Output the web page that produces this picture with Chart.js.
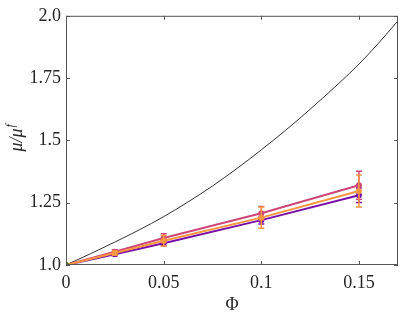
<!DOCTYPE html>
<html>
<head>
<meta charset="utf-8">
<script src="https://cdn.jsdelivr.net/npm/chart.js@4"></script>
<style>
  html, body { margin: 0; padding: 0; background: #fff; }
  #wrap { width: 415px; height: 312px; }
</style>
</head>
<body>
<div id="wrap"><canvas id="muChart" width="415" height="312"></canvas></div>
<script>
// ================= DATA =================
const phiPts = [0, 0.025, 0.05, 0.1, 0.15];
const pinkMu = [1.0, 1.053, 1.108, 1.208, 1.32];
const pinkErr = [0, 0.008, 0.017, 0.027, 0.056];
const orangeMu = [1.0, 1.048, 1.097, 1.19, 1.297];
const orangeErr = [0, 0.009, 0.021, 0.043, 0.064];
const purpleMu = [1.0, 1.043, 1.087, 1.18, 1.28];
const purpleErr = [0, 0.006, 0.01, 0.015, 0.029];

// theory curve
const curvePhi = [0, 0.0125, 0.025, 0.0375, 0.05, 0.0625, 0.075, 0.0875, 0.1, 0.1125, 0.125, 0.1375, 0.15, 0.16, 0.17];
const curveMu = [1.0, 1.045, 1.092, 1.141, 1.194, 1.253, 1.317, 1.387, 1.462, 1.541, 1.625, 1.713, 1.806, 1.89, 1.98];

const originPhi = [0];
const originMu = [1.0];

const xTicks = [0, 0.05, 0.1, 0.15];
const xTickLabels = ['0', '0.05', '0.1', '0.15'];
const yTicks = [1.0, 1.25, 1.5, 1.75, 2.0];
const yTickLabels = ['1.0', '1.25', '1.5', '1.75', '2.0'];

const PURPLE = '#7a0fa8';
const ORANGE = '#f89540';
const PINK = '#cc4778';

const pts = (xs, ys) => xs.map((x, i) => ({ x, y: ys[i] }));

// ================= PLUGIN: frame, inward ticks, error bars, y title =================
const axesBox = {
    id: 'axesBox',
    afterDatasetDraw(chart, args) {
        const ds = chart.data.datasets[args.index];
        if (!ds.errs) return;
        const ctx = chart.ctx;
        const xs = chart.scales.x, ys = chart.scales.y;
        ctx.save();
        ctx.strokeStyle = ds.borderColor;
        ctx.lineWidth = 1.5;
        ds.data.forEach((p, i) => {
            const e = ds.errs[i];
            if (!e) return;
            const px = xs.getPixelForValue(p.x);
            const top = ys.getPixelForValue(p.y + e);
            const bot = ys.getPixelForValue(p.y - e);
            ctx.beginPath();
            ctx.moveTo(px, top); ctx.lineTo(px, bot);
            ctx.moveTo(px - 3, top); ctx.lineTo(px + 3, top);
            ctx.moveTo(px - 3, bot); ctx.lineTo(px + 3, bot);
            ctx.stroke();
        });
        ctx.restore();
    },
    afterDraw(chart) {
        const ctx = chart.ctx;
        const a = chart.chartArea;
        const xs = chart.scales.x, ys = chart.scales.y;
        ctx.save();
        ctx.strokeStyle = '#555';
        ctx.lineWidth = 1;
        ctx.strokeRect(a.left + 0.5, a.top + 0.5, a.right - a.left - 1, a.bottom - a.top - 1);
        ctx.beginPath();
        xTicks.forEach(v => {
            const px = Math.round(xs.getPixelForValue(v)) + 0.5;
            ctx.moveTo(px, a.bottom); ctx.lineTo(px, a.bottom - 4);
            ctx.moveTo(px, a.top); ctx.lineTo(px, a.top + 4);
        });
        yTicks.forEach(v => {
            const py = Math.round(ys.getPixelForValue(v)) + 0.5;
            ctx.moveTo(a.left, py); ctx.lineTo(a.left + 4, py);
            ctx.moveTo(a.right, py); ctx.lineTo(a.right - 4, py);
        });
        ctx.stroke();

        // y title: mu / mu^f
        ctx.fillStyle = '#262626';
        ctx.translate(17, (a.top + a.bottom) / 2 - 2);
        ctx.rotate(-Math.PI / 2);
        ctx.textBaseline = 'middle';
        ctx.font = 'italic 18px "Liberation Serif"';
        const main = 'μ/μ';
        const wMain = ctx.measureText(main).width;
        ctx.font = 'italic 12px "Liberation Serif"';
        const wSup = ctx.measureText('f').width;
        const x0 = -(wMain + wSup) / 2;
        ctx.font = 'italic 18px "Liberation Serif"';
        ctx.fillText(main, x0, 0);
        ctx.font = 'italic 12px "Liberation Serif"';
        ctx.fillText('f', x0 + wMain + 1, -6);
        ctx.restore();
    }
};

// ================= CHART =================
new Chart(document.getElementById('muChart'), {
    type: 'scatter',
    data: {
        datasets: [
            {
                data: pts(originPhi, originMu),
                pointRadius: 2.5,
                pointBackgroundColor: '#138a13',
                pointBorderColor: '#138a13',
                showLine: false,
                order: 0
            },
            {
                data: pts(phiPts, orangeMu),
                errs: orangeErr,
                borderColor: ORANGE,
                backgroundColor: ORANGE,
                borderWidth: 2,
                pointRadius: 2,
                showLine: true,
                order: 1
            },
            {
                data: pts(phiPts, pinkMu),
                errs: pinkErr,
                borderColor: PINK,
                backgroundColor: PINK,
                borderWidth: 2,
                pointRadius: 2,
                showLine: true,
                order: 2
            },
            {
                data: pts(phiPts, purpleMu),
                errs: purpleErr,
                borderColor: PURPLE,
                backgroundColor: PURPLE,
                borderWidth: 2,
                pointRadius: 2,
                showLine: true,
                order: 3
            },
            {
                data: pts(curvePhi, curveMu),
                borderColor: '#333',
                borderWidth: 1,
                pointRadius: 0,
                showLine: true,
                cubicInterpolationMode: 'monotone',
                order: 4
            }
        ]
    },
    options: {
        responsive: false,
        animation: false,
        devicePixelRatio: 1,
        layout: { padding: { top: 15, right: 17, left: 0, bottom: 0 } },
        plugins: {
            legend: { display: false },
            tooltip: { enabled: false }
        },
        scales: {
            x: {
                type: 'linear',
                min: 0,
                max: 0.17,
                grid: { display: false, drawTicks: false },
                border: { display: false },
                afterBuildTicks: s => { s.ticks = xTicks.map(v => ({ value: v })); },
                afterFit: s => { s.height = 47; },
                ticks: {
                    padding: 7,
                    color: '#262626',
                    font: { family: 'Liberation Serif', size: 18 },
                    callback: (v, i) => xTickLabels[i]
                },
                title: {
                    display: true,
                    text: 'Φ',
                    color: '#262626',
                    font: { family: 'Liberation Serif', size: 18 },
                    padding: { top: 0, bottom: -4 }
                }
            },
            y: {
                type: 'linear',
                min: 1,
                max: 2,
                grid: { display: false, drawTicks: false },
                border: { display: false },
                afterBuildTicks: s => { s.ticks = yTicks.map(v => ({ value: v })); },
                afterFit: s => { s.width = 66; },
                ticks: {
                    padding: 5,
                    color: '#262626',
                    font: { family: 'Liberation Serif', size: 18 },
                    callback: (v, i) => yTickLabels[i]
                }
            }
        }
    },
    plugins: [axesBox]
});
</script>
</body>
</html>
